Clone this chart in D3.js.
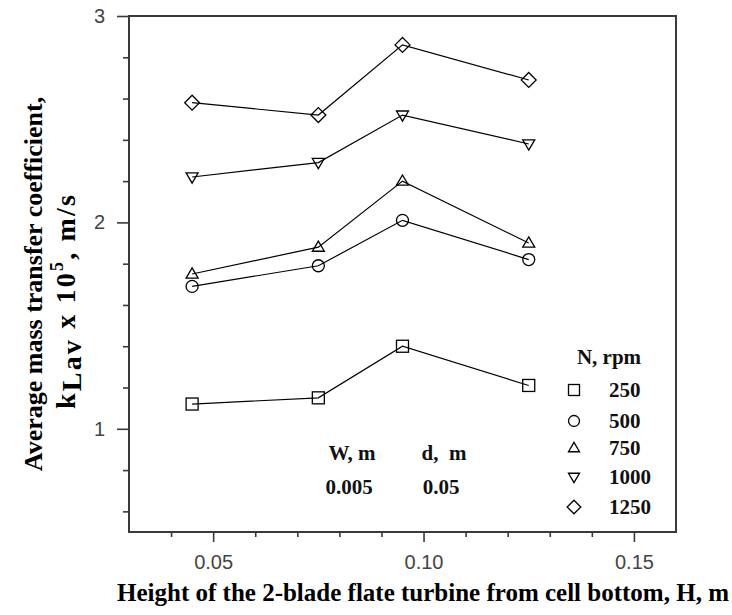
<!DOCTYPE html>
<html>
<head>
<meta charset="utf-8">
<script src="https://cdn.jsdelivr.net/npm/d3@7"></script>
<style>
  html, body { margin: 0; padding: 0; background: #fff; }
  svg { display: block; }
</style>
</head>
<body>
<svg id="chart" width="732" height="615"></svg>
<script>
// ---- data ----
const heights = [0.045, 0.075, 0.095, 0.125];
const speeds = ["250", "500", "750", "1000", "1250"];
const k250  = [1.12, 1.15, 1.40, 1.21];
const k500  = [1.69, 1.79, 2.01, 1.82];
const k750  = [1.75, 1.88, 2.20, 1.90];
const k1000 = [2.22, 2.29, 2.52, 2.38];
const k1250 = [2.58, 2.52, 2.86, 2.69];
const xMajorTicks = [0.05, 0.10, 0.15];
const xMinorTicks = [0.04, 0.06, 0.07, 0.08, 0.09, 0.11, 0.12, 0.13, 0.14];
const yMajorTicks = [1, 2, 3];
const yMinorTicks = [0.6, 0.8, 1.2, 1.4, 1.6, 1.8, 2.2, 2.4, 2.6, 2.8];
const paramHeaders = ["W, m", "d,  m"];
const paramValues = ["0.005", "0.05"];

const seriesValues = [k250, k500, k750, k1000, k1250];
const symbolKinds = ["square", "circle", "triangleUp", "triangleDown", "diamond"];

// ---- layout ----
const svg = d3.select("#chart");
const pL = 129, pR = 676, pT = 16, pB = 532;
const x = d3.scaleLinear().domain([0.03, 0.16]).range([pL, pR]);
const y = d3.scaleLinear().domain([0.5, 3]).range([pB, pT]);
const axisColor = "#3a3a3a";
const tickFont = "'Liberation Sans', Arial, sans-serif";
const serif = "'Liberation Serif', 'Times New Roman', serif";

// Axes
const gx = svg.append("g").attr("transform", `translate(0,${pB})`)
  .call(d3.axisBottom(x).tickValues(xMajorTicks).tickSize(10).tickPadding(13).tickFormat(d3.format(".2f")));
const gxm = svg.append("g").attr("transform", `translate(0,${pB})`)
  .call(d3.axisBottom(x).tickValues(xMinorTicks).tickSize(5).tickFormat(""));
const gy = svg.append("g").attr("transform", `translate(${pL},0)`)
  .call(d3.axisLeft(y).tickValues(yMajorTicks).tickSize(12).tickPadding(12).tickFormat(d3.format("d")));
const gym = svg.append("g").attr("transform", `translate(${pL},0)`)
  .call(d3.axisLeft(y).tickValues(yMinorTicks).tickSize(6).tickFormat(""));

[gx, gxm, gy, gym].forEach(g => {
  g.select(".domain").remove();
  g.selectAll(".tick line").attr("stroke", axisColor).attr("stroke-width", 1.6);
  g.selectAll(".tick text").attr("fill", "#444").attr("font-family", tickFont).attr("font-size", 20);
});

// frame
svg.append("rect")
  .attr("x", pL).attr("y", pT).attr("width", pR - pL).attr("height", pB - pT)
  .attr("fill", "none").attr("stroke", axisColor).attr("stroke-width", 2);

// Symbols
function drawSymbol(g, kind, cx, cy, s) {
  let el;
  if (kind === "square") {
    el = g.append("rect").attr("x", cx - s / 2).attr("y", cy - s / 2).attr("width", s).attr("height", s);
  } else if (kind === "circle") {
    el = g.append("circle").attr("cx", cx).attr("cy", cy).attr("r", s / 2);
  } else if (kind === "triangleUp") {
    const h = s * 0.85;
    el = g.append("path").attr("d", `M${cx},${cy - h * 0.6}L${cx + s / 2},${cy + h * 0.4}L${cx - s / 2},${cy + h * 0.4}Z`);
  } else if (kind === "triangleDown") {
    const h = s * 0.85;
    el = g.append("path").attr("d", `M${cx},${cy + h * 0.6}L${cx + s / 2},${cy - h * 0.4}L${cx - s / 2},${cy - h * 0.4}Z`);
  } else {
    const r = s * 0.62;
    el = g.append("path").attr("d", `M${cx},${cy - r}L${cx + r},${cy}L${cx},${cy + r}L${cx - r},${cy}Z`);
  }
  el.attr("fill", "none").attr("stroke", "#000").attr("stroke-width", 1.3);
}

const line = d3.line().x((d, i) => x(heights[i])).y(d => y(d));
seriesValues.forEach((vals, si) => {
  const g = svg.append("g");
  g.append("path").attr("d", line(vals)).attr("fill", "none").attr("stroke", "#000").attr("stroke-width", 1.2);
  vals.forEach((v, i) => drawSymbol(g, symbolKinds[si], x(heights[i]), y(v), 12));
});

// Legend
const legend = svg.append("g").attr("font-family", serif).attr("font-weight", "bold").attr("font-size", 21).attr("fill", "#111");
legend.append("text").attr("x", 609).attr("y", 364).attr("text-anchor", "middle").text("N, rpm");
const legendRows = [390, 421, 448, 477, 507];
speeds.forEach((s, i) => {
  drawSymbol(legend, symbolKinds[i], 574, legendRows[i], 11);
  legend.append("text").attr("x", 609).attr("y", legendRows[i] + 7).text(s);
});

// Parameter annotation
const ann = svg.append("g").attr("font-family", serif).attr("font-weight", "bold").attr("font-size", 21).attr("fill", "#111").attr("text-anchor", "middle");
const annX = [352, 444];
paramHeaders.forEach((t, i) => ann.append("text").attr("x", annX[i]).attr("y", 460).style("white-space", "pre").text(t));
paramValues.forEach((t, i) => ann.append("text").attr("x", annX[i] - 3).attr("y", 494).text(t));

// Axis titles
svg.append("text").attr("x", 423).attr("y", 601).attr("text-anchor", "middle")
  .attr("font-family", serif).attr("font-weight", "bold").attr("font-size", 25).attr("fill", "#000")
  .text("Height of the 2-blade flate turbine from cell bottom, H, m");

const yt = svg.append("g").attr("font-family", serif).attr("font-weight", "bold").attr("font-size", 26).attr("fill", "#000");
yt.append("text").attr("transform", "translate(42,284) rotate(-90)").attr("text-anchor", "middle")
  .text("Average mass transfer coefficient,");
const t2 = yt.append("text").attr("transform", "translate(75,302) rotate(-90)").attr("text-anchor", "middle")
  .attr("font-size", 28).attr("textLength", 214).attr("lengthAdjust", "spacing");
t2.append("tspan").text("k");
t2.append("tspan").attr("dy", 6).text("Lav");
t2.append("tspan").attr("dy", -6).text(" x 10");
t2.append("tspan").attr("dy", -12).attr("font-size", 18).text("5");
t2.append("tspan").attr("dy", 12).text(", m/s");
</script>
</body>
</html>
